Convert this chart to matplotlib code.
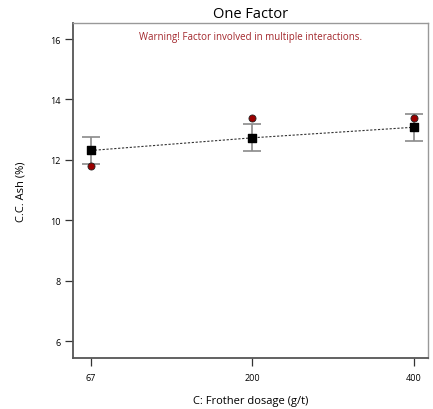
import matplotlib
matplotlib.use("Agg")
import matplotlib.pyplot as plt

# data
dosage_labels = ["67", "200", "400"]
coded = [-1, 0, 1]
predicted = [12.31, 12.73, 13.08]
err_low = [0.44, 0.43, 0.44]
err_high = [0.44, 0.46, 0.45]
actual = [11.79, 13.39, 13.39]

plt.rcParams['font.family'] = ['Open Sans', 'DejaVu Sans']

fig = plt.figure(figsize=(4.33, 4.10), dpi=100)
ax = fig.add_axes([0.1686, 0.1244, 0.82, 0.817])

ax.plot(coded, predicted, linestyle=(0, (2, 1.5)), color='#333333', linewidth=0.8, zorder=2)
eb = ax.errorbar(coded, predicted, yerr=[err_low, err_high], fmt='none',
                 ecolor='#8a8a8a', elinewidth=1.2, capsize=6.5, capthick=1.2, zorder=3)
for cap in eb[1]:
    cap.set_color('#222222')
ax.scatter(coded, actual, s=26, color='#9b0000', edgecolor='#222222', linewidth=0.6, zorder=4)
ax.scatter(coded, predicted, s=38, marker='s', color='black', zorder=5)

ax.set_xlim(-1.111, 1.087)
ax.set_ylim(5.44, 16.53)
ax.set_xticks(coded)
ax.set_xticklabels(dosage_labels)
ax.set_yticks([6, 8, 10, 12, 14, 16])

ax.tick_params(axis='both', direction='out', length=6, width=0.9, color='#333333',
               labelsize=6.5, pad=3)
ax.tick_params(axis='x', pad=5)

for side in ['left', 'bottom']:
    ax.spines[side].set_color('#555555')
    ax.spines[side].set_linewidth(1.3)
for side in ['top', 'right']:
    ax.spines[side].set_color('#999999')
    ax.spines[side].set_linewidth(1.0)

ax.set_title("One Factor", fontsize=10.5, pad=4)
ax.set_xlabel("C: Frother dosage (g/t)", fontsize=8, labelpad=9)
ax.set_ylabel("C.C. Ash (%)", fontsize=8, labelpad=17)
ax.text(0.5, 0.975, "Warning! Factor involved in multiple interactions.",
        transform=ax.transAxes, ha='center', va='top', fontsize=7, color='#a3282d')

fig.savefig("out.png", dpi=100)
